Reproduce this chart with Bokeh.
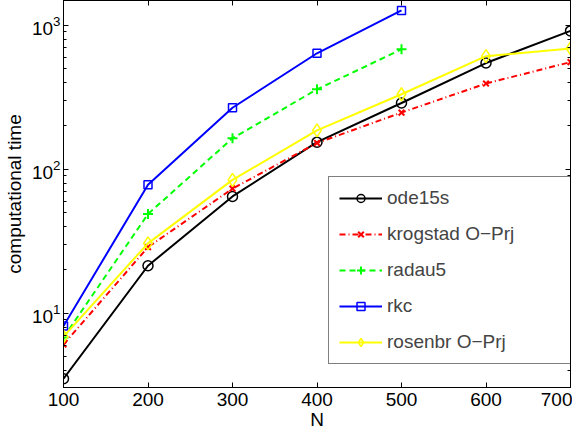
from bokeh.plotting import figure
from bokeh.models import (FixedTicker, LinearAxis, Legend, LegendItem, Range1d,
                          CustomJSTickFormatter)
from bokeh.embed import file_html
from bokeh.resources import INLINE

# ---- data ----
N_full = [100, 200, 300, 400, 500, 600, 700]
N_short = [100, 200, 300, 400, 500]
ode15s = [3.52, 21.4, 64.7, 154, 288, 545, 911]
krogstad = [6.08, 28.8, 73.3, 152, 247, 393, 553]
radau5 = [6.8, 48.9, 164, 358, 678]
rkc = [8.17, 78, 267, 637, 1263]
rosenbr = [6.9, 30.6, 84.3, 186, 331, 608, 688]

series_labels = ["ode15s", "krogstad O\u2212Prj", "radau5", "rkc", "rosenbr O\u2212Prj"]
x_ticks = [100, 200, 300, 400, 500, 600, 700]
y_major = [10, 100, 1000]
y_minor = [k * 10 ** e for e in range(0, 4) for k in range(2, 10)]

FONT = "Liberation Sans"
FS = "19px"

p = figure(width=572, height=432, y_axis_type="log",
           x_range=Range1d(100, 700), y_range=Range1d(3.06, 1480),
           output_backend="svg", toolbar_location=None,
           min_border_left=58, min_border_right=2, min_border_top=0,
           min_border_bottom=40)
p.grid.visible = False
p.outline_line_color = "black"
p.outline_line_width = 1
p.background_fill_color = "white"

# axes styling
for ax in [p.xaxis[0], p.yaxis[0]]:
    ax.axis_line_color = "black"
    ax.axis_line_width = 1
    ax.major_tick_in = 5
    ax.major_tick_out = 0
    ax.minor_tick_in = 3
    ax.minor_tick_out = 0
    ax.major_label_text_font = FONT
    ax.major_label_text_font_size = FS
    ax.major_label_text_color = "black"
    ax.axis_label_text_font = FONT
    ax.axis_label_text_font_size = FS
    ax.axis_label_text_font_style = "normal"
    ax.axis_label_text_color = "black"

p.xaxis[0].ticker = FixedTicker(ticks=x_ticks)
p.xaxis[0].major_label_standoff = 5
p.xaxis[0].axis_label = "N"
p.xaxis[0].axis_label_standoff = 0

p.yaxis[0].ticker = FixedTicker(ticks=y_major, minor_ticks=y_minor)
p.yaxis[0].major_label_standoff = 3
p.yaxis[0].axis_label = "computational time"
p.yaxis[0].axis_label_standoff = 4

# box ticks on top / right (labels empty)
blank = CustomJSTickFormatter(code="return ''")
top = LinearAxis(ticker=FixedTicker(ticks=x_ticks), formatter=blank,
                 major_tick_in=5, major_tick_out=0, minor_tick_in=0, minor_tick_out=0,
                 major_label_text_font_size="1px", major_label_text_color=None,
                 axis_line_color="black", major_label_standoff=0)
p.add_layout(top, "above")
blank2 = CustomJSTickFormatter(code="return ''")
right = LinearAxis(ticker=FixedTicker(ticks=y_major, minor_ticks=y_minor), formatter=blank2,
                   major_tick_in=5, major_tick_out=0, minor_tick_in=3, minor_tick_out=0,
                   major_label_text_font_size="1px", major_label_text_color=None,
                   axis_line_color="black", major_label_standoff=0)
p.add_layout(right, "right")

items = []

def add_series(xs, ys, color, dash, marker, size, label, mlw=1.5):
    lr = p.line(xs, ys, line_color=color, line_width=2, line_dash=dash)
    sr = p.scatter(xs, ys, marker=marker, size=size, line_color=color,
                   fill_color=None, line_width=mlw)
    items.append(LegendItem(label=label, renderers=[lr, sr]))

add_series(N_full, ode15s, "black", "solid", "circle", 10, series_labels[0])
add_series(N_full, krogstad, "#ff0000", "6 3 1 3", "x", 8, series_labels[1], 2)
add_series(N_short, radau5, "#00ff00", "6 4", "cross", 10, series_labels[2], 2)
add_series(N_short, rkc, "#0000ff", "solid", "square", 8, series_labels[3])
add_series(N_full, rosenbr, "#ffff00", "solid", "diamond", 13, series_labels[4])

legend = Legend(items=items, location=(265, 23),
                border_line_color="black", border_line_width=1,
                background_fill_color="white", background_fill_alpha=1,
                label_text_font=FONT, label_text_font_size=FS,
                glyph_width=43, glyph_height=20, label_height=20,
                spacing=14, padding=10, label_standoff=5, label_width=179,
                margin=0)
p.add_layout(legend)

open("out.html", "w").write(file_html(p, INLINE))
